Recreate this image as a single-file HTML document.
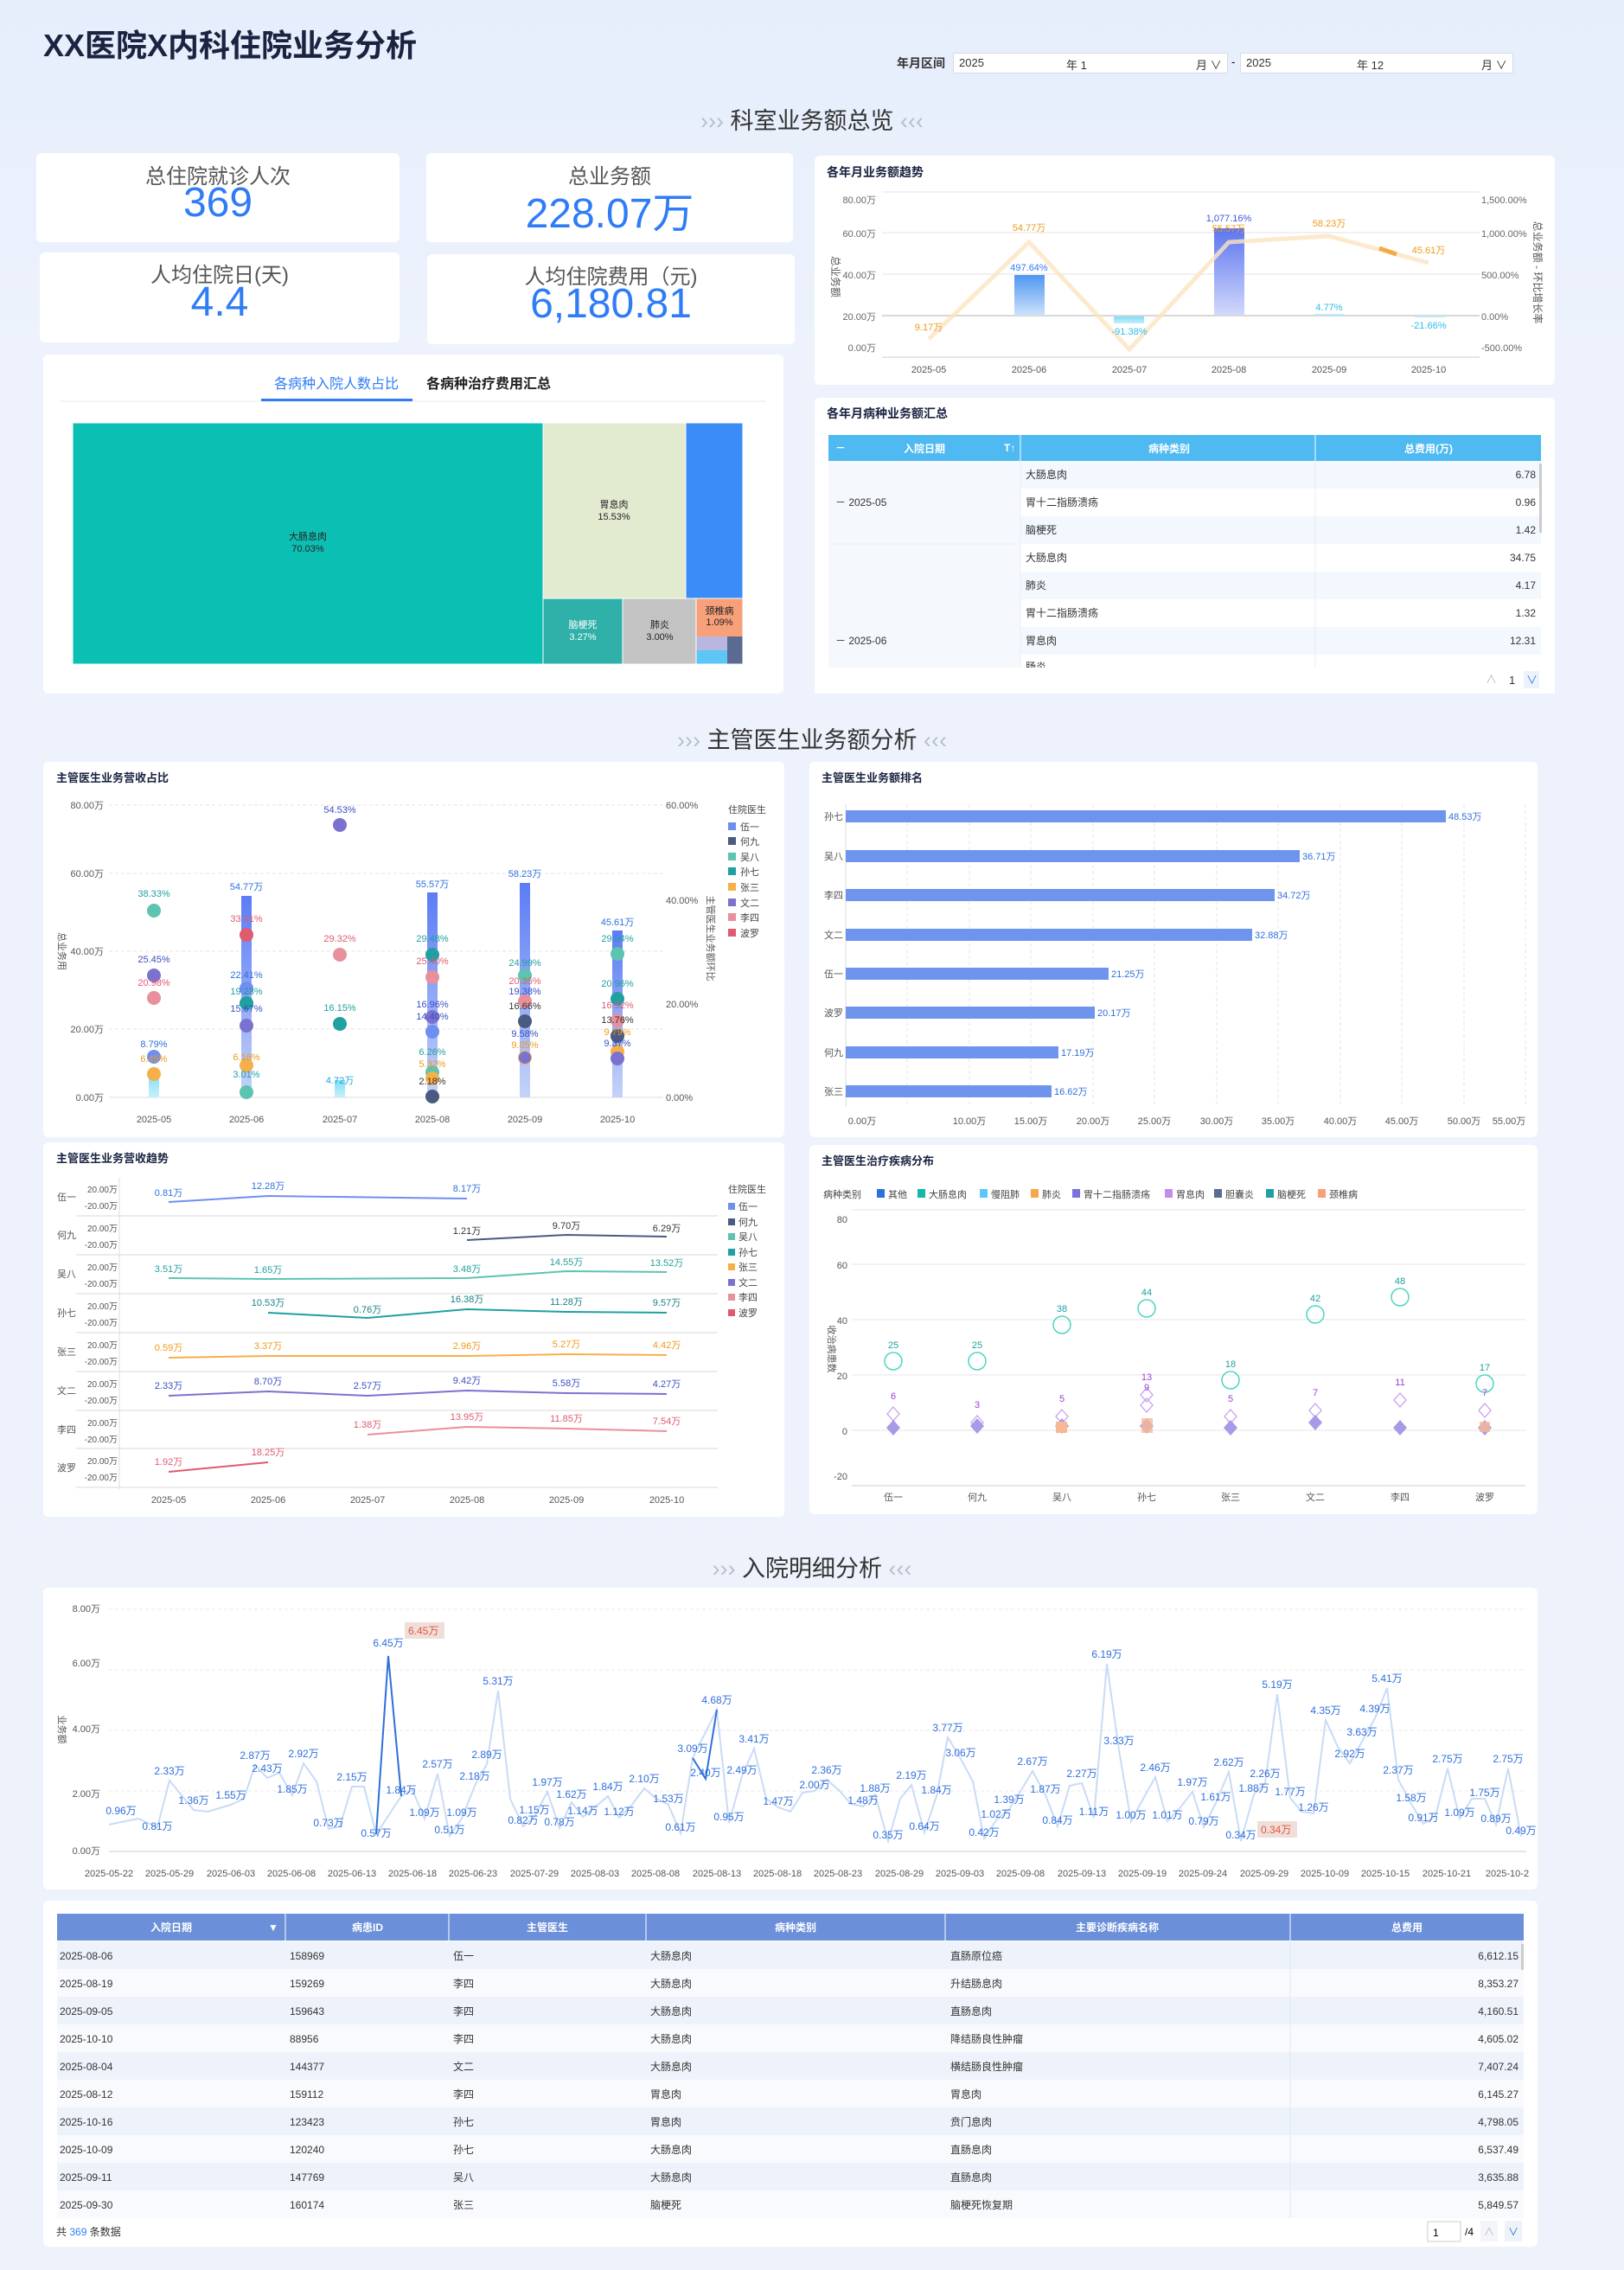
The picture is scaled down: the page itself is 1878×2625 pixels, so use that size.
<!DOCTYPE html>
<html><head><meta charset="utf-8">
<style>
*{margin:0;padding:0;box-sizing:border-box}
body{width:1878px;height:2625px;position:relative;overflow:hidden;font-family:"Liberation Sans","Noto Sans CJK SC",sans-serif;background:linear-gradient(180deg,#e6eefc 0px,#edf2fc 400px,#eef2fb 2625px)}
.p{position:absolute;background:#fff;border-radius:6px}
.t{position:absolute;white-space:nowrap}
.kl{position:absolute;width:100%;text-align:center;font-size:24px;color:#555}
.kv{position:absolute;width:100%;text-align:center;font-size:48px;color:#2f7cf6}
svg{position:absolute;left:0;top:0}
</style></head><body>
<div class="t" style="left:50px;top:24px;font-size:36px;font-weight:bold;color:#1a2340">XX医院X内科住院业务分析</div>
<div class="t" style="left:1037px;top:63px;font-size:14px;font-weight:bold;color:#333">年月区间</div>
<div class="p" style="left:1102px;top:61px;width:318px;height:24px;border:1px solid #d5dbe6;border-radius:2px;font-size:13px;color:#333"><span class="t" style="left:6px;top:3px">2025</span><span class="t" style="left:130px;top:3px">年 1</span><span class="t" style="left:280px;top:3px">月 ∨</span></div>
<div class="t" style="left:1424px;top:64px;font-size:13px">-</div>
<div class="p" style="left:1434px;top:61px;width:316px;height:24px;border:1px solid #d5dbe6;border-radius:2px;font-size:13px;color:#333"><span class="t" style="left:6px;top:3px">2025</span><span class="t" style="left:134px;top:3px">年 12</span><span class="t" style="left:278px;top:3px">月 ∨</span></div>

<div class="t" style="left:0;width:1878px;text-align:center;top:118px;font-size:27px;color:#333"><span style="color:#b8bfcc">›››</span> 科室业务额总览 <span style="color:#b8bfcc">‹‹‹</span></div>
<div class="t" style="left:0;width:1878px;text-align:center;top:834px;font-size:27px;color:#333"><span style="color:#b8bfcc">›››</span> 主管医生业务额分析 <span style="color:#b8bfcc">‹‹‹</span></div>
<div class="t" style="left:0;width:1878px;text-align:center;top:1792px;font-size:27px;color:#333"><span style="color:#b8bfcc">›››</span> 入院明细分析 <span style="color:#b8bfcc">‹‹‹</span></div>

<div class="p" style="left:42px;top:177px;width:420px;height:103px"><div class="kl" style="top:7px">总住院就诊人次</div><div class="kv" style="top:30px">369</div></div>
<div class="p" style="left:493px;top:177px;width:424px;height:103px"><div class="kl" style="top:7px">总业务额</div><div class="kv" style="top:30px">228.07万</div></div>
<div class="p" style="left:46px;top:292px;width:416px;height:104px"><div class="kl" style="top:6px">人均住院日(天)</div><div class="kv" style="top:30px">4.4</div></div>
<div class="p" style="left:494px;top:294px;width:425px;height:104px"><div class="kl" style="top:6px">人均住院费用（元)</div><div class="kv" style="top:30px">6,180.81</div></div>

<div class="p" style="left:50px;top:410px;width:856px;height:392px"></div>
<div class="p" style="left:942px;top:180px;width:856px;height:265px"></div>
<div class="p" style="left:942px;top:460px;width:856px;height:342px"></div>
<div class="p" style="left:50px;top:881px;width:857px;height:434px"></div>
<div class="p" style="left:936px;top:881px;width:842px;height:434px"></div>
<div class="p" style="left:50px;top:1321px;width:857px;height:433px"></div>
<div class="p" style="left:936px;top:1324px;width:842px;height:427px"></div>
<div class="p" style="left:50px;top:1836px;width:1728px;height:349px"></div>
<div class="p" style="left:50px;top:2198px;width:1728px;height:400px"></div>

<svg width="1878" height="2625" font-family="Liberation Sans, Noto Sans CJK SC, sans-serif" font-size="12">
<defs>
<linearGradient id="gb" x1="0" y1="0" x2="0" y2="1"><stop offset="0" stop-color="#4d96f0"/><stop offset="1" stop-color="#cfe3fb"/></linearGradient>
<linearGradient id="gp" x1="0" y1="0" x2="0" y2="1"><stop offset="0" stop-color="#5b74ef"/><stop offset="1" stop-color="#d3d9fb"/></linearGradient>
<linearGradient id="gc" x1="0" y1="0" x2="0" y2="1"><stop offset="0" stop-color="#7fdcf5"/><stop offset="1" stop-color="#c6f0fb"/></linearGradient>
<linearGradient id="gbar" x1="0" y1="0" x2="0" y2="1"><stop offset="0" stop-color="#5b7cf5"/><stop offset="1" stop-color="#c5d3f8"/></linearGradient>
</defs>
<!-- treemap tabs -->
<text x="317" y="449" font-size="16" fill="#2f7cf6">各病种入院人数占比</text>
<text x="493" y="449" font-size="16" fill="#222" font-weight="bold">各病种治疗费用汇总</text>
<line x1="69" y1="464" x2="886" y2="464" stroke="#e5e8ee"/>
<rect x="302" y="461" width="175" height="3" fill="#2f7cf6"/>
<!-- treemap -->
<rect x="84" y="489" width="544" height="279" fill="#0cbfb3"/>
<rect x="628" y="489" width="165" height="203" fill="#e2ead0"/>
<rect x="793" y="489" width="66" height="203" fill="#3b8cf7"/>
<rect x="628" y="692" width="92" height="76" fill="#2fb0a8"/>
<rect x="720" y="692" width="85" height="76" fill="#c3c3c3"/>
<rect x="805" y="692" width="54" height="44" fill="#f7a07a"/>
<rect x="805" y="736" width="36" height="16" fill="#b9b6df"/>
<rect x="805" y="752" width="36" height="16" fill="#5cc6f7"/>
<rect x="841" y="736" width="18" height="32" fill="#5a6a90"/>
<g stroke="#fff" stroke-width="1" fill="none"><rect x="84" y="489" width="775" height="279"/><line x1="628" y1="489" x2="628" y2="768"/><line x1="628" y1="692" x2="859" y2="692"/><line x1="720" y1="692" x2="720" y2="768"/><line x1="805" y1="692" x2="805" y2="768"/><line x1="793" y1="489" x2="793" y2="692"/></g>
<g font-size="11" text-anchor="middle" fill="#222"><text x="356" y="624">大肠息肉</text><text x="356" y="638">70.03%</text><text x="710" y="587">胃息肉</text><text x="710" y="601">15.53%</text><text x="674" y="726" fill="#fff">脑梗死</text><text x="674" y="740" fill="#fff">3.27%</text><text x="763" y="726">肺炎</text><text x="763" y="740">3.00%</text><text x="832" y="710">颈椎病</text><text x="832" y="723">1.09%</text></g>

<!-- trend chart top right -->
<text x="956" y="204" font-size="14" font-weight="bold" fill="#1a2340">各年月业务额趋势</text>
<g stroke="#e3e3e3"><line x1="1020" y1="222" x2="1711" y2="222"/><line x1="1020" y1="269" x2="1711" y2="269"/><line x1="1020" y1="317" x2="1711" y2="317"/><line x1="1020" y1="365" x2="1711" y2="365" stroke="#d8d8d8" stroke-width="2"/><line x1="1020" y1="413" x2="1711" y2="413" stroke="#ccc"/></g>
<g font-size="11" fill="#666" text-anchor="end"><text x="1013" y="235">80.00万</text><text x="1013" y="274">60.00万</text><text x="1013" y="322">40.00万</text><text x="1013" y="370">20.00万</text><text x="1013" y="406">0.00万</text></g>
<g font-size="11" fill="#666"><text x="1713" y="235">1,500.00%</text><text x="1713" y="274">1,000.00%</text><text x="1713" y="322">500.00%</text><text x="1713" y="370">0.00%</text><text x="1713" y="406">-500.00%</text></g>
<text x="962" y="320" font-size="12" fill="#555" transform="rotate(90 962 320)" text-anchor="middle">总业务额</text>
<text x="1774" y="315" font-size="12" fill="#555" transform="rotate(90 1774 315)" text-anchor="middle">总业务额 - 环比增长率</text>
<rect x="1173" y="318" width="35" height="47" fill="url(#gb)"/>
<rect x="1288" y="366" width="35" height="8" fill="url(#gc)"/>
<rect x="1404" y="264" width="35" height="101" fill="url(#gp)"/>
<rect x="1520" y="363" width="35" height="2" fill="#bde9fb"/>
<rect x="1636" y="365" width="35" height="2" fill="#bde9fb"/>
<polyline points="1074,392 1190,280 1306,404 1421,280 1537,273 1652,304" fill="none" stroke="#fde3c0" stroke-width="5" opacity="0.8"/>
<line x1="1595" y1="287" x2="1615" y2="294" stroke="#f5aa45" stroke-width="5"/>
<g font-size="11" text-anchor="middle"><text x="1074" y="382" fill="#ee9a1a">9.17万</text><text x="1190" y="267" fill="#ee9a1a">54.77万</text><text x="1421" y="268" fill="#ee9a1a">55.57万</text><text x="1537" y="262" fill="#ee9a1a">58.23万</text><text x="1652" y="293" fill="#ee9a1a">45.61万</text><text x="1190" y="313" fill="#2f7cf6">497.64%</text><text x="1306" y="387" fill="#2bbdea">-91.38%</text><text x="1421" y="256" fill="#3b56e8">1,077.16%</text><text x="1537" y="359" fill="#2bbdea">4.77%</text><text x="1652" y="380" fill="#2bbdea">-21.66%</text></g>
<g font-size="11" fill="#555" text-anchor="middle"><text x="1074" y="431">2025-05</text><text x="1190" y="431">2025-06</text><text x="1306" y="431">2025-07</text><text x="1421" y="431">2025-08</text><text x="1537" y="431">2025-09</text><text x="1652" y="431">2025-10</text></g>

<!-- table disease per month -->
<text x="956" y="483" font-size="14" font-weight="bold" fill="#1a2340">各年月病种业务额汇总</text>
<rect x="958" y="503" width="824" height="30" fill="#4fb9f2"/>
<g stroke="#fff"><line x1="1180" y1="503" x2="1180" y2="533"/><line x1="1521" y1="503" x2="1521" y2="533"/></g>
<g font-size="12" fill="#fff" font-weight="bold"><text x="966" y="522">－</text><text x="1069" y="523" text-anchor="middle">入院日期</text><text x="1161" y="522">T↑</text><text x="1352" y="523" text-anchor="middle">病种类别</text><text x="1652" y="523" text-anchor="middle">总费用(万)</text></g>
<rect x="958" y="533" width="222" height="240" fill="#f5f9fd"/>
<rect x="1180" y="533" width="602" height="32" fill="#f2f8fd"/><rect x="1180" y="597" width="602" height="32" fill="#f2f8fd"/><rect x="1180" y="661" width="602" height="32" fill="#f2f8fd"/><rect x="1180" y="725" width="602" height="32" fill="#f2f8fd"/>
<g stroke="#e8eef5"><line x1="958" y1="629" x2="1180" y2="629"/><line x1="1180" y1="533" x2="1180" y2="773"/><line x1="1521" y1="533" x2="1521" y2="773"/></g>
<g font-size="12" fill="#333"><text x="966" y="585">－ 2025-05</text><text x="966" y="745">－ 2025-06</text>
<text x="1186" y="553">大肠息肉</text><text x="1186" y="585">胃十二指肠溃疡</text><text x="1186" y="617">脑梗死</text><text x="1186" y="649">大肠息肉</text><text x="1186" y="681">肺炎</text><text x="1186" y="713">胃十二指肠溃疡</text><text x="1186" y="745">胃息肉</text><text x="1186" y="775">肠炎</text></g>
<g font-size="12" fill="#333" text-anchor="end"><text x="1776" y="553">6.78</text><text x="1776" y="585">0.96</text><text x="1776" y="617">1.42</text><text x="1776" y="649">34.75</text><text x="1776" y="681">4.17</text><text x="1776" y="713">1.32</text><text x="1776" y="745">12.31</text></g>
<rect x="1780" y="536" width="3" height="80" fill="#ccc"/>
<rect x="942" y="772" width="856" height="30" fill="#fff"/>
<g font-size="13" fill="#333"><text x="1718" y="790" fill="#bbb">∧</text><text x="1745" y="791">1</text><rect x="1762" y="776" width="18" height="20" fill="#eef3fb"/><text x="1765" y="791" fill="#2f7cf6">∨</text></g>

<!-- Chart A -->
<text x="65" y="904" font-size="13" font-weight="bold" fill="#1a2340">主管医生业务营收占比</text>
<g stroke="#e6e6e6" stroke-dasharray="4 3"><line x1="126" y1="931" x2="767" y2="931"/><line x1="126" y1="1010" x2="767" y2="1010"/><line x1="126" y1="1100" x2="767" y2="1100"/><line x1="126" y1="1190" x2="767" y2="1190"/></g>
<line x1="126" y1="1269" x2="767" y2="1269" stroke="#ddd"/>
<g font-size="11" fill="#555" text-anchor="end"><text x="120" y="935">80.00万</text><text x="120" y="1014">60.00万</text><text x="120" y="1104">40.00万</text><text x="120" y="1194">20.00万</text><text x="120" y="1273">0.00万</text></g>
<g font-size="11" fill="#555"><text x="770" y="935">60.00%</text><text x="770" y="1045">40.00%</text><text x="770" y="1165">20.00%</text><text x="770" y="1273">0.00%</text></g>
<text x="68" y="1100" font-size="11" fill="#555" transform="rotate(90 68 1100)" text-anchor="middle">总业务用</text>
<text x="818" y="1085" font-size="11" fill="#555" transform="rotate(90 818 1085)" text-anchor="middle">主管医生业务额环比</text>
<g font-size="11" fill="#555" text-anchor="middle"><text x="178" y="1298">2025-05</text><text x="285" y="1298">2025-06</text><text x="393" y="1298">2025-07</text><text x="500" y="1298">2025-08</text><text x="607" y="1298">2025-09</text><text x="714" y="1298">2025-10</text></g>
<rect x="172" y="1240" width="12" height="29" fill="url(#gc)"/>
<rect x="279" y="1036" width="12" height="233" fill="url(#gbar)"/>
<rect x="387" y="1249" width="12" height="20" fill="url(#gc)"/>
<rect x="494" y="1032" width="12" height="237" fill="url(#gbar)"/>
<rect x="601" y="1021" width="12" height="248" fill="url(#gbar)"/>
<rect x="708" y="1076" width="12" height="193" fill="url(#gbar)"/>
<g>
<circle cx="178" cy="1053" r="8" fill="#5cc4b0"/><circle cx="178" cy="1128" r="8" fill="#7b72d0"/><circle cx="178" cy="1154" r="8" fill="#e8909c"/><circle cx="178" cy="1222" r="8" fill="#6f8ff0"/><circle cx="178" cy="1242" r="8" fill="#f5b04a"/>
<circle cx="285" cy="1081" r="8" fill="#e05a70"/><circle cx="285" cy="1143" r="8" fill="#6f8ff0"/><circle cx="285" cy="1160" r="8" fill="#20a0a0"/><circle cx="285" cy="1186" r="8" fill="#7b72d0"/><circle cx="285" cy="1232" r="8" fill="#f5b04a"/><circle cx="285" cy="1263" r="8" fill="#5cc4b0"/>
<circle cx="393" cy="954" r="8" fill="#7b72d0"/><circle cx="393" cy="1104" r="8" fill="#e8909c"/><circle cx="393" cy="1184" r="8" fill="#20a0a0"/>
<circle cx="500" cy="1104" r="8" fill="#20a0a0"/><circle cx="500" cy="1130" r="8" fill="#e8909c"/><circle cx="500" cy="1176" r="8" fill="#7b72d0"/><circle cx="500" cy="1193" r="8" fill="#6f8ff0"/><circle cx="500" cy="1240" r="8" fill="#5cc4b0"/><circle cx="500" cy="1247" r="8" fill="#f5b04a"/><circle cx="500" cy="1268" r="8" fill="#4a5a80"/>
<circle cx="607" cy="1128" r="8" fill="#5cc4b0"/><circle cx="607" cy="1158" r="8" fill="#e8909c"/><circle cx="607" cy="1181" r="8" fill="#4a5a80"/><circle cx="607" cy="1223" r="8" fill="#f5b04a"/><circle cx="607" cy="1223" r="7" fill="#7b72d0"/>
<circle cx="714" cy="1103" r="8" fill="#5cc4b0"/><circle cx="714" cy="1155" r="8" fill="#20a0a0"/><circle cx="714" cy="1180" r="8" fill="#e8909c"/><circle cx="714" cy="1198" r="8" fill="#4a5a80"/><circle cx="714" cy="1216" r="8" fill="#f5b04a"/><circle cx="714" cy="1224" r="8" fill="#7b72d0"/>
</g>
<g font-size="11" text-anchor="middle">
<text x="178" y="1037" fill="#20a0a0">38.33%</text><text x="178" y="1113" fill="#3b4fc0">25.45%</text><text x="178" y="1140" fill="#e05a70">20.98%</text><text x="178" y="1211" fill="#2f6fdc">8.79%</text><text x="178" y="1228" fill="#ee9a1a">6.45%</text>
<text x="285" y="1029" fill="#2f6fdc">54.77万</text><text x="285" y="1066" fill="#e05a70">33.41%</text><text x="285" y="1131" fill="#2f6fdc">22.41%</text><text x="285" y="1150" fill="#20a0a0">19.23%</text><text x="285" y="1170" fill="#3b4fc0">15.67%</text><text x="285" y="1226" fill="#ee9a1a">6.16%</text><text x="285" y="1246" fill="#20a0a0">3.01%</text>
<text x="393" y="940" fill="#3b4fc0">54.53%</text><text x="393" y="1089" fill="#e05a70">29.32%</text><text x="393" y="1169" fill="#20a0a0">16.15%</text><text x="393" y="1253" fill="#1aa6d8">4.72万</text>
<text x="500" y="1026" fill="#2f6fdc">55.57万</text><text x="500" y="1089" fill="#20a0a0">29.48%</text><text x="500" y="1115" fill="#e05a70">25.40%</text><text x="500" y="1165" fill="#3b4fc0">16.96%</text><text x="500" y="1179" fill="#3b4fc0">14.40%</text><text x="500" y="1220" fill="#20a0a0">6.26%</text><text x="500" y="1234" fill="#ee9a1a">5.32%</text><text x="500" y="1254" fill="#333">2.18%</text>
<text x="607" y="1014" fill="#2f6fdc">58.23万</text><text x="607" y="1117" fill="#20a0a0">24.99%</text><text x="607" y="1138" fill="#e05a70">20.35%</text><text x="607" y="1150" fill="#3b4fc0">19.38%</text><text x="607" y="1167" fill="#333">16.66%</text><text x="607" y="1199" fill="#3b4fc0">9.58%</text><text x="607" y="1212" fill="#ee9a1a">9.05%</text>
<text x="714" y="1070" fill="#2f6fdc">45.61万</text><text x="714" y="1089" fill="#20a0a0">29.94%</text><text x="714" y="1141" fill="#20a0a0">20.96%</text><text x="714" y="1166" fill="#e05a70">16.52%</text><text x="714" y="1183" fill="#333">13.76%</text><text x="714" y="1197" fill="#ee9a1a">9.79%</text><text x="714" y="1210" fill="#3b4fc0">9.37%</text>
</g>
<g font-size="11" fill="#444"><text x="842" y="940">住院医生</text>
<rect x="842" y="951" width="9" height="9" fill="#6f8ff0"/><text x="856" y="960">伍一</text>
<rect x="842" y="968" width="9" height="9" fill="#4a5a80"/><text x="856" y="977">何九</text>
<rect x="842" y="986" width="9" height="9" fill="#5cc4b0"/><text x="856" y="995">吴八</text>
<rect x="842" y="1003" width="9" height="9" fill="#20a0a0"/><text x="856" y="1012">孙七</text>
<rect x="842" y="1021" width="9" height="9" fill="#f5b04a"/><text x="856" y="1030">张三</text>
<rect x="842" y="1039" width="9" height="9" fill="#7b72d0"/><text x="856" y="1048">文二</text>
<rect x="842" y="1056" width="9" height="9" fill="#e8909c"/><text x="856" y="1065">李四</text>
<rect x="842" y="1074" width="9" height="9" fill="#e05a70"/><text x="856" y="1083">波罗</text></g>

<!-- Chart B ranking -->
<text x="950" y="904" font-size="13" font-weight="bold" fill="#1a2340">主管医生业务额排名</text>
<g stroke="#e6e6e6" stroke-dasharray="4 3"><line x1="1049" y1="930" x2="1049" y2="1280"/><line x1="1121" y1="930" x2="1121" y2="1280"/><line x1="1192" y1="930" x2="1192" y2="1280"/><line x1="1264" y1="930" x2="1264" y2="1280"/><line x1="1335" y1="930" x2="1335" y2="1280"/><line x1="1407" y1="930" x2="1407" y2="1280"/><line x1="1478" y1="930" x2="1478" y2="1280"/><line x1="1550" y1="930" x2="1550" y2="1280"/><line x1="1621" y1="930" x2="1621" y2="1280"/><line x1="1693" y1="930" x2="1693" y2="1280"/><line x1="1764" y1="930" x2="1764" y2="1280"/></g>
<line x1="978" y1="930" x2="978" y2="1280" stroke="#ddd"/>
<g fill="#6f94ee"><rect x="978" y="937" width="694" height="14"/><rect x="978" y="983" width="525" height="14"/><rect x="978" y="1028" width="496" height="14"/><rect x="978" y="1074" width="470" height="14"/><rect x="978" y="1119" width="304" height="14"/><rect x="978" y="1164" width="288" height="14"/><rect x="978" y="1210" width="246" height="14"/><rect x="978" y="1255" width="238" height="14"/></g>
<g font-size="11" fill="#555"><text x="953" y="948">孙七</text><text x="953" y="994">吴八</text><text x="953" y="1039">李四</text><text x="953" y="1085">文二</text><text x="953" y="1130">伍一</text><text x="953" y="1175">波罗</text><text x="953" y="1221">何九</text><text x="953" y="1266">张三</text></g>
<g font-size="11" fill="#2f6fdc"><text x="1675" y="948">48.53万</text><text x="1506" y="994">36.71万</text><text x="1477" y="1039">34.72万</text><text x="1451" y="1085">32.88万</text><text x="1285" y="1130">21.25万</text><text x="1269" y="1175">20.17万</text><text x="1227" y="1221">17.19万</text><text x="1219" y="1266">16.62万</text></g>
<g font-size="11" fill="#555" text-anchor="middle"><text x="997" y="1300">0.00万</text><text x="1121" y="1300">10.00万</text><text x="1192" y="1300">15.00万</text><text x="1264" y="1300">20.00万</text><text x="1335" y="1300">25.00万</text><text x="1407" y="1300">30.00万</text><text x="1478" y="1300">35.00万</text><text x="1550" y="1300">40.00万</text><text x="1621" y="1300">45.00万</text><text x="1693" y="1300">50.00万</text><text x="1745" y="1300">55.00万</text></g>

<!-- Chart C small multiples -->
<text x="65" y="1344" font-size="13" font-weight="bold" fill="#1a2340">主管医生业务营收趋势</text>
<line x1="138" y1="1362" x2="138" y2="1722" stroke="#ddd"/>
<g font-size="10" fill="#555" text-anchor="end">
<text x="136" y="1379">20.00万</text><text x="136" y="1398">-20.00万</text>
<text x="136" y="1424">20.00万</text><text x="136" y="1443">-20.00万</text>
<text x="136" y="1469">20.00万</text><text x="136" y="1488">-20.00万</text>
<text x="136" y="1514">20.00万</text><text x="136" y="1533">-20.00万</text>
<text x="136" y="1559">20.00万</text><text x="136" y="1578">-20.00万</text>
<text x="136" y="1604">20.00万</text><text x="136" y="1623">-20.00万</text>
<text x="136" y="1649">20.00万</text><text x="136" y="1668">-20.00万</text>
<text x="136" y="1693">20.00万</text><text x="136" y="1712">-20.00万</text>
</g>
<g font-size="11" fill="#555"><text x="66" y="1388">伍一</text><text x="66" y="1432">何九</text><text x="66" y="1477">吴八</text><text x="66" y="1522">孙七</text><text x="66" y="1567">张三</text><text x="66" y="1612">文二</text><text x="66" y="1657">李四</text><text x="66" y="1701">波罗</text></g>
<g stroke="#d8d8d8"><line x1="88" y1="1406" x2="830" y2="1406"/><line x1="88" y1="1451" x2="830" y2="1451"/><line x1="88" y1="1496" x2="830" y2="1496"/><line x1="88" y1="1541" x2="830" y2="1541"/><line x1="88" y1="1586" x2="830" y2="1586"/><line x1="88" y1="1631" x2="830" y2="1631"/><line x1="88" y1="1675" x2="830" y2="1675"/><line x1="88" y1="1720" x2="830" y2="1720"/></g>
<g fill="none" stroke-width="2">
<polyline points="195,1390 310,1383 540,1386" stroke="#6f8ff0"/>
<polyline points="540,1434 655,1428 771,1430" stroke="#4a5a80"/>
<polyline points="195,1478 310,1479 540,1478 655,1470 771,1471" stroke="#5cc4b0"/>
<polyline points="310,1518 425,1524 540,1514 655,1517 771,1518" stroke="#20a0a0"/>
<polyline points="195,1570 310,1568 540,1568 655,1566 771,1567" stroke="#f5b04a"/>
<polyline points="195,1614 310,1609 425,1614 540,1608 655,1611 771,1612" stroke="#7b72d0"/>
<polyline points="425,1659 540,1650 655,1652 771,1655" stroke="#e8909c"/>
<polyline points="195,1702 310,1691" stroke="#e05a70"/>
</g>
<g font-size="11" text-anchor="middle">
<text x="195" y="1383" fill="#2f6fdc">0.81万</text><text x="310" y="1375" fill="#2f6fdc">12.28万</text><text x="540" y="1378" fill="#2f6fdc">8.17万</text>
<text x="540" y="1427" fill="#333">1.21万</text><text x="655" y="1421" fill="#333">9.70万</text><text x="771" y="1424" fill="#333">6.29万</text>
<text x="195" y="1471" fill="#20a0a0">3.51万</text><text x="310" y="1472" fill="#20a0a0">1.65万</text><text x="540" y="1471" fill="#20a0a0">3.48万</text><text x="655" y="1463" fill="#20a0a0">14.55万</text><text x="771" y="1464" fill="#20a0a0">13.52万</text>
<text x="310" y="1510" fill="#1a7f86">10.53万</text><text x="425" y="1518" fill="#1a7f86">0.76万</text><text x="540" y="1506" fill="#1a7f86">16.38万</text><text x="655" y="1509" fill="#1a7f86">11.28万</text><text x="771" y="1510" fill="#1a7f86">9.57万</text>
<text x="195" y="1562" fill="#ee9a1a">0.59万</text><text x="310" y="1560" fill="#ee9a1a">3.37万</text><text x="540" y="1560" fill="#ee9a1a">2.96万</text><text x="655" y="1558" fill="#ee9a1a">5.27万</text><text x="771" y="1559" fill="#ee9a1a">4.42万</text>
<text x="195" y="1606" fill="#3b4fc0">2.33万</text><text x="310" y="1601" fill="#3b4fc0">8.70万</text><text x="425" y="1606" fill="#3b4fc0">2.57万</text><text x="540" y="1600" fill="#3b4fc0">9.42万</text><text x="655" y="1603" fill="#3b4fc0">5.58万</text><text x="771" y="1604" fill="#3b4fc0">4.27万</text>
<text x="425" y="1651" fill="#e05a70">1.38万</text><text x="540" y="1642" fill="#e05a70">13.95万</text><text x="655" y="1644" fill="#e05a70">11.85万</text><text x="771" y="1647" fill="#e05a70">7.54万</text>
<text x="195" y="1694" fill="#e05a70">1.92万</text><text x="310" y="1683" fill="#e05a70">18.25万</text>
</g>
<g font-size="11" fill="#555" text-anchor="middle"><text x="195" y="1738">2025-05</text><text x="310" y="1738">2025-06</text><text x="425" y="1738">2025-07</text><text x="540" y="1738">2025-08</text><text x="655" y="1738">2025-09</text><text x="771" y="1738">2025-10</text></g>
<g font-size="11" fill="#444"><text x="842" y="1379">住院医生</text>
<rect x="842" y="1391" width="8" height="8" fill="#6f8ff0"/><text x="854" y="1399">伍一</text>
<rect x="842" y="1409" width="8" height="8" fill="#4a5a80"/><text x="854" y="1417">何九</text>
<rect x="842" y="1426" width="8" height="8" fill="#5cc4b0"/><text x="854" y="1434">吴八</text>
<rect x="842" y="1444" width="8" height="8" fill="#20a0a0"/><text x="854" y="1452">孙七</text>
<rect x="842" y="1461" width="8" height="8" fill="#f5b04a"/><text x="854" y="1469">张三</text>
<rect x="842" y="1479" width="8" height="8" fill="#7b72d0"/><text x="854" y="1487">文二</text>
<rect x="842" y="1496" width="8" height="8" fill="#e8909c"/><text x="854" y="1504">李四</text>
<rect x="842" y="1514" width="8" height="8" fill="#e05a70"/><text x="854" y="1522">波罗</text></g>

<!-- Chart D -->
<text x="950" y="1347" font-size="13" font-weight="bold" fill="#1a2340">主管医生治疗疾病分布</text>
<g font-size="11" fill="#444"><text x="952" y="1385">病种类别</text>
<rect x="1014" y="1375" width="9" height="10" fill="#2f6fe0"/><text x="1027" y="1385">其他</text>
<rect x="1061" y="1375" width="9" height="10" fill="#12b8a8"/><text x="1074" y="1385">大肠息肉</text>
<rect x="1133" y="1375" width="9" height="10" fill="#5cc6f7"/><text x="1146" y="1385">慢阻肺</text>
<rect x="1192" y="1375" width="9" height="10" fill="#f5a84a"/><text x="1205" y="1385">肺炎</text>
<rect x="1240" y="1375" width="9" height="10" fill="#7b72e0"/><text x="1253" y="1385">胃十二指肠溃疡</text>
<rect x="1347" y="1375" width="9" height="10" fill="#c88ae8"/><text x="1360" y="1385">胃息肉</text>
<rect x="1404" y="1375" width="9" height="10" fill="#5a6a90"/><text x="1417" y="1385">胆囊炎</text>
<rect x="1464" y="1375" width="9" height="10" fill="#20a0a0"/><text x="1477" y="1385">脑梗死</text>
<rect x="1524" y="1375" width="9" height="10" fill="#f7a07a"/><text x="1537" y="1385">颈椎病</text></g>
<g stroke="#e6e6e6"><line x1="985" y1="1399" x2="1764" y2="1399"/><line x1="985" y1="1462" x2="1764" y2="1462"/><line x1="985" y1="1526" x2="1764" y2="1526"/><line x1="985" y1="1590" x2="1764" y2="1590"/><line x1="985" y1="1654" x2="1764" y2="1654"/></g>
<line x1="985" y1="1718" x2="1764" y2="1718" stroke="#ccc"/>
<g font-size="11" fill="#555" text-anchor="end"><text x="980" y="1414">80</text><text x="980" y="1467">60</text><text x="980" y="1531">40</text><text x="980" y="1595">20</text><text x="980" y="1659">0</text><text x="980" y="1711">-20</text></g>
<text x="958" y="1560" font-size="11" fill="#555" transform="rotate(90 958 1560)" text-anchor="middle">收治病患数</text>
<g font-size="11" fill="#555" text-anchor="middle"><text x="1033" y="1735">伍一</text><text x="1130" y="1735">何九</text><text x="1228" y="1735">吴八</text><text x="1326" y="1735">孙七</text><text x="1423" y="1735">张三</text><text x="1521" y="1735">文二</text><text x="1619" y="1735">李四</text><text x="1717" y="1735">波罗</text></g>
<g fill="none" stroke="#4dd6c4" stroke-width="1.5"><circle cx="1033" cy="1574" r="10"/><circle cx="1130" cy="1574" r="10"/><circle cx="1228" cy="1532" r="10"/><circle cx="1326" cy="1513" r="10"/><circle cx="1423" cy="1596" r="10"/><circle cx="1521" cy="1520" r="10"/><circle cx="1619" cy="1500" r="10"/><circle cx="1717" cy="1600" r="10"/></g>
<g font-size="11" fill="#20a0a0" text-anchor="middle"><text x="1033" y="1559">25</text><text x="1130" y="1559">25</text><text x="1228" y="1517">38</text><text x="1326" y="1498">44</text><text x="1423" y="1581">18</text><text x="1521" y="1505">42</text><text x="1619" y="1485">48</text><text x="1717" y="1585">17</text></g>
<g fill="none" stroke="#c8a0ee" stroke-width="1.3">
<path d="M1033,1627 l7,8 l-7,8 l-7,-8z"/><path d="M1130,1637 l7,8 l-7,8 l-7,-8z"/><path d="M1228,1630 l7,8 l-7,8 l-7,-8z"/><path d="M1326,1605 l7,8 l-7,8 l-7,-8z"/><path d="M1326,1617 l7,8 l-7,8 l-7,-8z"/><path d="M1423,1630 l7,8 l-7,8 l-7,-8z"/><path d="M1521,1623 l7,8 l-7,8 l-7,-8z"/><path d="M1619,1611 l7,8 l-7,8 l-7,-8z"/><path d="M1717,1623 l7,8 l-7,8 l-7,-8z"/></g>
<g fill="#a89ae6"><path d="M1033,1642 l8,9 l-8,9 l-8,-9z"/><path d="M1130,1640 l8,9 l-8,9 l-8,-9z"/><path d="M1228,1640 l8,9 l-8,9 l-8,-9z"/><path d="M1326,1640 l8,9 l-8,9 l-8,-9z"/><path d="M1423,1642 l8,9 l-8,9 l-8,-9z"/><path d="M1521,1636 l8,9 l-8,9 l-8,-9z"/><path d="M1619,1642 l8,9 l-8,9 l-8,-9z"/><path d="M1717,1642 l8,9 l-8,9 l-8,-9z"/></g>
<rect x="1221" y="1644" width="13" height="13" fill="#f7b894"/><rect x="1320" y="1640" width="13" height="17" fill="#f7b894" opacity="0.8"/><rect x="1711" y="1644" width="12" height="12" fill="#f7b894" opacity="0.8"/>
<g font-size="11" text-anchor="middle" fill="#9a40d0"><text x="1033" y="1618">6</text><text x="1130" y="1628">3</text><text x="1228" y="1621">5</text><text x="1326" y="1596">13</text><text x="1326" y="1608">9</text><text x="1423" y="1621">5</text><text x="1521" y="1614">7</text><text x="1619" y="1602">11</text><text x="1717" y="1614">7</text></g>

<!-- big line chart -->
<g stroke="#eaeaea" stroke-dasharray="4 3"><line x1="126" y1="1861" x2="1765" y2="1861"/><line x1="126" y1="1931" x2="1765" y2="1931"/><line x1="126" y1="2001" x2="1765" y2="2001"/><line x1="126" y1="2071" x2="1765" y2="2071"/></g>
<line x1="126" y1="2141" x2="1765" y2="2141" stroke="#ccc"/>
<g font-size="11" fill="#555" text-anchor="end"><text x="116" y="1864">8.00万</text><text x="116" y="1927">6.00万</text><text x="116" y="2003">4.00万</text><text x="116" y="2078">2.00万</text><text x="116" y="2144">0.00万</text></g>
<text x="68" y="2000" font-size="11" fill="#555" transform="rotate(90 68 2000)" text-anchor="middle">业务额</text>
<polyline fill="none" stroke="#c9dbf6" stroke-width="2" points="126,2110 140,2107 160,2103 182,2113 196,2059 224,2093 240,2095 267,2087 282,2080 295,2041 309,2056 323,2050 338,2076 351,2039 366,2060 380,2115 393,2112 407,2066 421,2066 435,2121 464,2077 477,2070 491,2103 506,2051 520,2123 534,2103 549,2065 563,2040 576,1955 590,2080 605,2112 618,2101 633,2072 647,2114 661,2084 674,2101 688,2090 703,2077 716,2102 730,2088 745,2068 759,2080 773,2087 787,2120 801,2033 829,1977 843,2108 858,2054 872,2022 886,2080 900,2090 914,2095 928,2073 942,2071 956,2058 970,2070 984,2086 998,2089 1012,2075 1027,2129 1041,2080 1054,2064 1069,2119 1083,2077 1096,2009 1111,2034 1125,2060 1138,2126 1152,2105 1167,2092 1181,2070 1194,2048 1209,2076 1223,2112 1237,2065 1251,2062 1265,2102 1280,1924 1294,2024 1308,2106 1322,2080 1336,2055 1350,2106 1365,2090 1379,2072 1392,2113 1406,2085 1421,2049 1435,2129 1450,2075 1463,2062 1477,1959 1492,2079 1505,2095 1519,2097 1533,1989 1547,2020 1561,2039 1575,2014 1590,1987 1604,1952 1617,2058 1632,2086 1646,2109 1660,2100 1674,2045 1688,2103 1702,2080 1717,2080 1730,2110 1744,2045 1759,2124"/>
<polyline fill="none" stroke="#2f6fdc" stroke-width="2" points="435,2121 449,1915 464,2077"/>
<polyline fill="none" stroke="#2f6fdc" stroke-width="2" points="801,2033 816,2057 829,1977"/>
<rect x="468" y="1876" width="46" height="19" fill="#f0dedb"/><text x="472" y="1890" font-size="12" fill="#e05a3a">6.45万</text>
<rect x="1454" y="2106" width="46" height="19" fill="#f0dedb"/><text x="1458" y="2120" font-size="12" fill="#e05a3a">0.34万</text>
<g font-size="12" fill="#2f6fdc" text-anchor="middle">
<text x="140" y="2098">0.96万</text><text x="182" y="2116">0.81万</text><text x="196" y="2052">2.33万</text><text x="224" y="2086">1.36万</text><text x="267" y="2080">1.55万</text><text x="295" y="2034">2.87万</text><text x="309" y="2049">2.43万</text><text x="338" y="2073">1.85万</text><text x="351" y="2032">2.92万</text><text x="380" y="2112">0.73万</text><text x="407" y="2059">2.15万</text><text x="435" y="2124">0.57万</text><text x="449" y="1904">6.45万</text><text x="464" y="2074">1.84万</text><text x="491" y="2100">1.09万</text><text x="506" y="2044">2.57万</text><text x="520" y="2120">0.51万</text><text x="534" y="2100">1.09万</text><text x="549" y="2058">2.18万</text><text x="563" y="2033">2.89万</text><text x="576" y="1948">5.31万</text><text x="605" y="2109">0.82万</text><text x="618" y="2097">1.15万</text><text x="633" y="2065">1.97万</text><text x="647" y="2111">0.78万</text><text x="661" y="2079">1.62万</text><text x="674" y="2098">1.14万</text><text x="703" y="2070">1.84万</text><text x="716" y="2099">1.12万</text><text x="745" y="2061">2.10万</text><text x="773" y="2084">1.53万</text><text x="787" y="2117">0.61万</text><text x="801" y="2026">3.09万</text><text x="816" y="2054">2.40万</text><text x="829" y="1970">4.68万</text><text x="843" y="2105">0.95万</text><text x="858" y="2051">2.49万</text><text x="872" y="2015">3.41万</text><text x="900" y="2087">1.47万</text><text x="942" y="2068">2.00万</text><text x="956" y="2051">2.36万</text><text x="998" y="2086">1.48万</text><text x="1012" y="2072">1.88万</text><text x="1027" y="2126">0.35万</text><text x="1054" y="2057">2.19万</text><text x="1069" y="2116">0.64万</text><text x="1083" y="2074">1.84万</text><text x="1096" y="2002">3.77万</text><text x="1111" y="2031">3.06万</text><text x="1138" y="2123">0.42万</text><text x="1152" y="2102">1.02万</text><text x="1167" y="2085">1.39万</text><text x="1194" y="2041">2.67万</text><text x="1209" y="2073">1.87万</text><text x="1223" y="2109">0.84万</text><text x="1251" y="2055">2.27万</text><text x="1265" y="2099">1.11万</text><text x="1280" y="1917">6.19万</text><text x="1294" y="2017">3.33万</text><text x="1308" y="2103">1.00万</text><text x="1336" y="2048">2.46万</text><text x="1350" y="2103">1.01万</text><text x="1379" y="2065">1.97万</text><text x="1392" y="2110">0.79万</text><text x="1406" y="2082">1.61万</text><text x="1421" y="2042">2.62万</text><text x="1435" y="2126">0.34万</text><text x="1450" y="2072">1.88万</text><text x="1463" y="2055">2.26万</text><text x="1477" y="1952">5.19万</text><text x="1492" y="2076">1.77万</text><text x="1519" y="2094">1.26万</text><text x="1533" y="1982">4.35万</text><text x="1561" y="2032">2.92万</text><text x="1575" y="2007">3.63万</text><text x="1590" y="1980">4.39万</text><text x="1604" y="1945">5.41万</text><text x="1617" y="2051">2.37万</text><text x="1632" y="2083">1.58万</text><text x="1646" y="2106">0.91万</text><text x="1674" y="2038">2.75万</text><text x="1688" y="2100">1.09万</text><text x="1717" y="2077">1.75万</text><text x="1730" y="2107">0.89万</text><text x="1744" y="2038">2.75万</text><text x="1759" y="2121">0.49万</text>
</g>
<g font-size="11" fill="#555" text-anchor="middle"><text x="126" y="2170">2025-05-22</text><text x="196" y="2170">2025-05-29</text><text x="267" y="2170">2025-06-03</text><text x="337" y="2170">2025-06-08</text><text x="407" y="2170">2025-06-13</text><text x="477" y="2170">2025-06-18</text><text x="547" y="2170">2025-06-23</text><text x="618" y="2170">2025-07-29</text><text x="688" y="2170">2025-08-03</text><text x="758" y="2170">2025-08-08</text><text x="829" y="2170">2025-08-13</text><text x="899" y="2170">2025-08-18</text><text x="969" y="2170">2025-08-23</text><text x="1040" y="2170">2025-08-29</text><text x="1110" y="2170">2025-09-03</text><text x="1180" y="2170">2025-09-08</text><text x="1251" y="2170">2025-09-13</text><text x="1321" y="2170">2025-09-19</text><text x="1391" y="2170">2025-09-24</text><text x="1462" y="2170">2025-09-29</text><text x="1532" y="2170">2025-10-09</text><text x="1602" y="2170">2025-10-15</text><text x="1673" y="2170">2025-10-21</text><text x="1743" y="2170">2025-10-2</text></g>

<!-- bottom table -->
<rect x="66" y="2213" width="1696" height="31" fill="#6b8fd8"/>
<g stroke="#fff"><line x1="330" y1="2213" x2="330" y2="2244"/><line x1="519" y1="2213" x2="519" y2="2244"/><line x1="747" y1="2213" x2="747" y2="2244"/><line x1="1093" y1="2213" x2="1093" y2="2244"/><line x1="1492" y1="2213" x2="1492" y2="2244"/></g>
<g font-size="12" fill="#fff" font-weight="bold" text-anchor="middle"><text x="198" y="2233">入院日期</text><text x="316" y="2233">▼</text><text x="425" y="2233">病患ID</text><text x="633" y="2233">主管医生</text><text x="920" y="2233">病种类别</text><text x="1292" y="2233">主要诊断疾病名称</text><text x="1627" y="2233">总费用</text></g>
<g fill="#eef3fb"><rect x="66" y="2245" width="1696" height="32"/><rect x="66" y="2309" width="1696" height="32"/><rect x="66" y="2373" width="1696" height="32"/><rect x="66" y="2437" width="1696" height="32"/><rect x="66" y="2501" width="1696" height="32"/></g>
<g fill="#f8fafd"><rect x="66" y="2277" width="1696" height="32"/><rect x="66" y="2341" width="1696" height="32"/><rect x="66" y="2405" width="1696" height="32"/><rect x="66" y="2469" width="1696" height="32"/><rect x="66" y="2533" width="1696" height="32"/></g>
<line x1="1492" y1="2245" x2="1492" y2="2565" stroke="#e3e8f0"/>
<g font-size="12" fill="#333">
<text x="69" y="2266">2025-08-06</text><text x="335" y="2266">158969</text><text x="524" y="2266">伍一</text><text x="752" y="2266">大肠息肉</text><text x="1099" y="2266">直肠原位癌</text>
<text x="69" y="2298">2025-08-19</text><text x="335" y="2298">159269</text><text x="524" y="2298">李四</text><text x="752" y="2298">大肠息肉</text><text x="1099" y="2298">升结肠息肉</text>
<text x="69" y="2330">2025-09-05</text><text x="335" y="2330">159643</text><text x="524" y="2330">李四</text><text x="752" y="2330">大肠息肉</text><text x="1099" y="2330">直肠息肉</text>
<text x="69" y="2362">2025-10-10</text><text x="335" y="2362">88956</text><text x="524" y="2362">李四</text><text x="752" y="2362">大肠息肉</text><text x="1099" y="2362">降结肠良性肿瘤</text>
<text x="69" y="2394">2025-08-04</text><text x="335" y="2394">144377</text><text x="524" y="2394">文二</text><text x="752" y="2394">大肠息肉</text><text x="1099" y="2394">横结肠良性肿瘤</text>
<text x="69" y="2426">2025-08-12</text><text x="335" y="2426">159112</text><text x="524" y="2426">李四</text><text x="752" y="2426">胃息肉</text><text x="1099" y="2426">胃息肉</text>
<text x="69" y="2458">2025-10-16</text><text x="335" y="2458">123423</text><text x="524" y="2458">孙七</text><text x="752" y="2458">胃息肉</text><text x="1099" y="2458">贲门息肉</text>
<text x="69" y="2490">2025-10-09</text><text x="335" y="2490">120240</text><text x="524" y="2490">孙七</text><text x="752" y="2490">大肠息肉</text><text x="1099" y="2490">直肠息肉</text>
<text x="69" y="2522">2025-09-11</text><text x="335" y="2522">147769</text><text x="524" y="2522">吴八</text><text x="752" y="2522">大肠息肉</text><text x="1099" y="2522">直肠息肉</text>
<text x="69" y="2554">2025-09-30</text><text x="335" y="2554">160174</text><text x="524" y="2554">张三</text><text x="752" y="2554">脑梗死</text><text x="1099" y="2554">脑梗死恢复期</text>
</g>
<g font-size="12" fill="#333" text-anchor="end"><text x="1756" y="2266">6,612.15</text><text x="1756" y="2298">8,353.27</text><text x="1756" y="2330">4,160.51</text><text x="1756" y="2362">4,605.02</text><text x="1756" y="2394">7,407.24</text><text x="1756" y="2426">6,145.27</text><text x="1756" y="2458">4,798.05</text><text x="1756" y="2490">6,537.49</text><text x="1756" y="2522">3,635.88</text><text x="1756" y="2554">5,849.57</text></g>
<rect x="1759" y="2248" width="3" height="30" fill="#ccc"/>
<text x="65" y="2585" font-size="12" fill="#333">共 <tspan fill="#2f7cf6">369</tspan> 条数据</text>
<rect x="1651" y="2569" width="38" height="23" fill="#fff" stroke="#ccc"/><text x="1657" y="2586" font-size="12">1</text><text x="1694" y="2585" font-size="12">/4</text>
<rect x="1712" y="2568" width="20" height="24" fill="#f3f5f9"/><text x="1716" y="2585" font-size="12" fill="#bbb">∧</text>
<rect x="1740" y="2568" width="20" height="24" fill="#eef2f9"/><text x="1744" y="2585" font-size="12" fill="#2f6fdc">∨</text>
</svg>
</body></html>
